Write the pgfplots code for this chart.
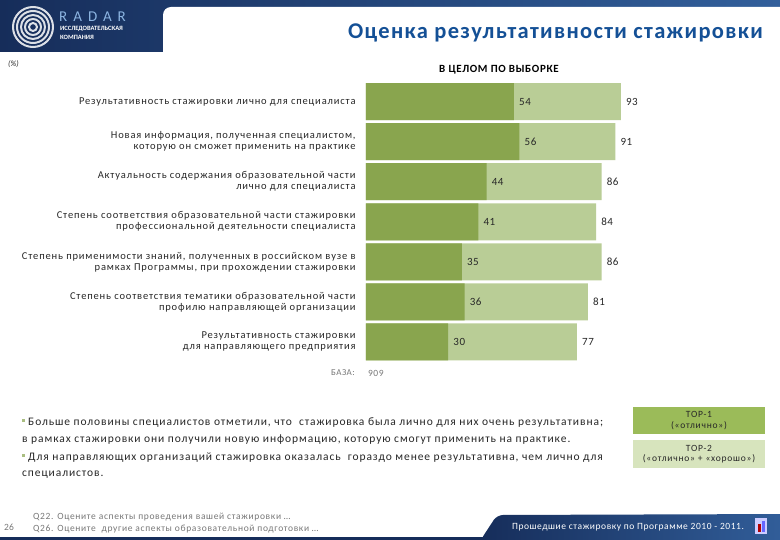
\documentclass[border=0pt]{standalone}
\usepackage{fontspec}
\setmainfont{Carlito}
\usepackage{pgfplots}
\usepackage{pgfplotstable}
\pgfplotsset{compat=1.18}
\definecolor{dkg}{RGB}{137,165,78}
\definecolor{ltg}{RGB}{185,205,150}
\definecolor{legg}{RGB}{155,187,89}
\definecolor{legl}{RGB}{215,228,189}
\definecolor{titleblue}{RGB}{20,80,150}
\definecolor{navy}{RGB}{22,45,90}
\definecolor{midblue}{RGB}{50,95,155}
\definecolor{txt}{RGB}{40,40,40}
\definecolor{gtxt}{RGB}{120,120,120}
\definecolor{radarblue}{RGB}{140,180,225}
\definecolor{bul}{RGB}{170,190,130}
\newcommand{\ls}[1]{\addfontfeature{LetterSpace=#1}}

\pgfplotstableread{
idx top1 top2
0 54 93
1 56 91
2 44 86
3 41 84
4 35 86
5 36 81
6 30 77
}\data

\begin{document}
\begin{tikzpicture}[x=1pt,y=-1pt]
\path[use as bounding box] (0,0) rectangle (780,540);
\fill[white] (0,0) rectangle (780,540);
% header
\shade[left color=navy, right color=midblue] (0,0) rectangle (780,52);
\fill[white, rounded corners=8pt] (163,7) rectangle (800,90);
\fill[white] (0,52) rectangle (780,90);
\foreach \r in {4,8,12,16,20}
  \draw[white, line width=2pt, opacity=0.85] (33,27) circle (\r pt);
\node[anchor=west, inner sep=0pt, text=radarblue, font=\fontsize{15}{15}\selectfont\ls{40}] at (59,17) {RADAR};
\node[anchor=west, inner sep=0pt, text=white, font=\fontsize{6.5}{7}\selectfont\bfseries] at (60,29) {ИССЛЕДОВАТЕЛЬСКАЯ};
\node[anchor=west, inner sep=0pt, text=white, font=\fontsize{6.5}{7}\selectfont\bfseries] at (60,37) {КОМПАНИЯ};
\node[anchor=west, inner sep=0pt, text=txt, font=\fontsize{8}{9}\selectfont\itshape] at (8,64) {(\%)};
\node[anchor=east, inner sep=0pt, text=titleblue, font=\fontsize{22.5}{24}\selectfont\bfseries\ls{6}] at (763,33) {Оценка результативности стажировки};
\node[inner sep=0pt, text=black, font=\fontsize{11}{12}\selectfont\bfseries\ls{6}] at (499,70) {В ЦЕЛОМ ПО ВЫБОРКЕ};

\begin{axis}[at={(366pt,-81.5pt)}, anchor=north west, scale only axis,
  width=274pt, height=280.5pt, xmin=0, xmax=100, ymin=-0.5, ymax=6.5,
  y dir=reverse, xbar, bar shift=0pt, bar width=37pt,
  axis line style={draw=none}, tick style={draw=none}, xtick=\empty,
  /pgf/number format/assume math mode=true,
  ytick={0,...,6},
  yticklabels={{Результативность стажировки лично для специалиста},
    {Новая информация, полученная специалистом,\\ которую он сможет применить на практике},
    {Актуальность содержания образовательной части\\ лично для специалиста},
    {Степень соответствия образовательной части стажировки\\ профессиональной деятельности специалиста},
    {Степень применимости знаний, полученных в российском вузе в\\ рамках Программы, при прохождении стажировки},
    {Степень соответствия тематики образовательной части\\ профилю направляющей организации},
    {Результативность стажировки\\ для направляющего предприятия}},
  yticklabel style={anchor=east, align=right, inner sep=0pt, xshift=-6pt, text=txt, font=\fontsize{10.5}{11}\selectfont\ls{8}},
  nodes near coords style={anchor=west, inner sep=0pt, xshift=5pt, text=txt, font=\fontsize{11}{11}\selectfont\ls{5}},
  clip=false]
\addplot[fill=ltg, draw=none, point meta=x, nodes near coords] table[x=top2, y=idx]{\data};
\addplot[fill=dkg, draw=none, point meta=x, nodes near coords] table[x=top1, y=idx]{\data};
\end{axis}

\node[anchor=east, inner sep=0pt, text=gtxt, font=\fontsize{9}{10}\selectfont\ls{5}] at (355,373) {БАЗА:};
\node[anchor=west, inner sep=0pt, text=gtxt, font=\fontsize{9.5}{10}\selectfont\ls{5}] at (368,373) {909};

% bullets
\begin{scope}[every node/.style={anchor=west, inner sep=0pt, text=txt, font=\fontsize{11.5}{12}\selectfont\ls{8}}]
\fill[bul] (21.5,418.5) rectangle (25,422);
\node at (28,423) {Больше половины специалистов отметили, что \ стажировка была лично для них очень результативна;};
\node at (22,440) {в рамках стажировки они получили новую информацию, которую смогут применить на практике.};
\fill[bul] (21.5,453.5) rectangle (25,457);
\node at (28,458) {Для направляющих организаций стажировка оказалась \ гораздо менее результативна, чем лично для};
\node at (22,475) {специалистов.};
\end{scope}

% legend
\fill[legg] (633,407) rectangle (765,434);
\node[align=center, inner sep=0pt, text=txt, font=\fontsize{9.5}{10.5}\selectfont\ls{8}] at (699,420.5) {TOP-1\\(«отлично»)};
\fill[legl] (633,440) rectangle (765,468);
\node[align=center, inner sep=0pt, text=txt, font=\fontsize{9.5}{10.5}\selectfont\ls{8}] at (699,454) {TOP-2\\(«отлично» + «хорошо»)};

% footer
\node[anchor=west, inner sep=0pt, text=gtxt, font=\fontsize{9.5}{10}\selectfont] at (4,527) {26};
\node[anchor=west, inner sep=0pt, text=gtxt, font=\fontsize{9.5}{10}\selectfont\ls{7}] at (33,517) {Q22. Оцените аспекты проведения вашей стажировки …};
\node[anchor=west, inner sep=0pt, text=gtxt, font=\fontsize{9.5}{10}\selectfont\ls{7}] at (33,529) {Q26. Оцените \ другие аспекты образовательной подготовки …};
\fill[navy] (0,536.5) rectangle (780,540);
\shade[left color=navy, right color=midblue, rounded corners=6pt] (480,541) -- (497,515) -- (790,514) -- (790,541) -- cycle;
\node[inner sep=0pt, text=white, font=\fontsize{9.5}{10}\selectfont\ls{6}] at (628,527) {Прошедшие стажировку по Программе 2010 - 2011.};
\fill[white!80!blue] (755,518) rectangle (767,534);
\fill[red!70!black] (758,524) rectangle (761,532);
\fill[blue!60] (762,521) rectangle (765,532);
\end{tikzpicture}
\end{document}
